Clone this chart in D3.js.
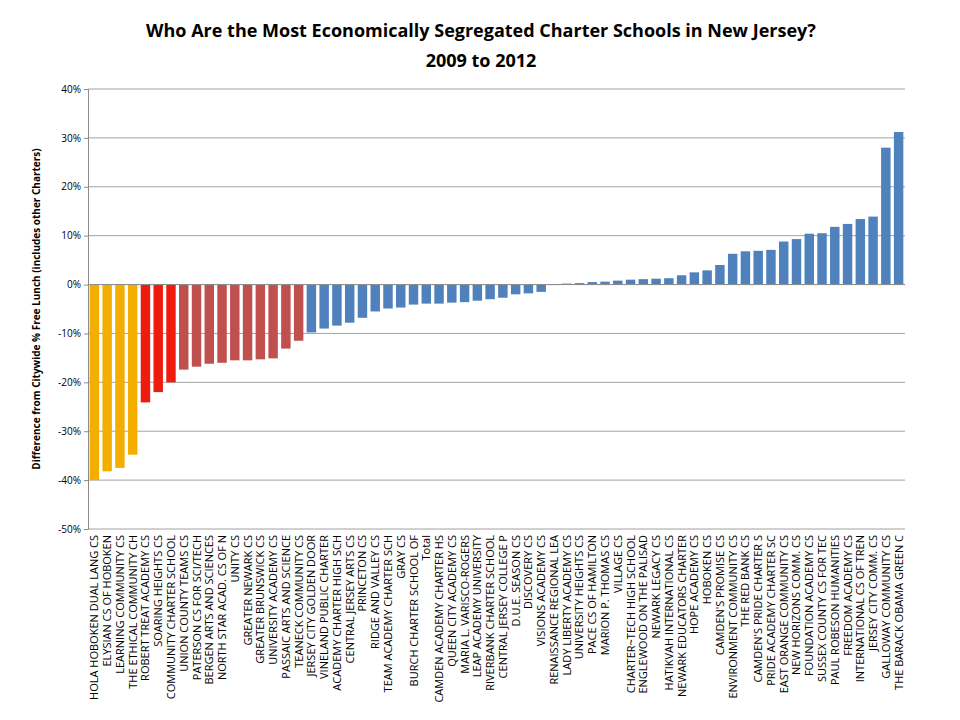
<html>
<head>
<meta charset="utf-8" />
<style>
  body { margin: 0; background: #fff; }
  svg text { font-family: "Open Sans", "DejaVu Sans", sans-serif; }
</style>
</head>
<body>
<div id="chart"></div>
<script src="https://cdnjs.cloudflare.com/ajax/libs/d3/7.8.5/d3.min.js"></script>
<script>
var schools = ["HOLA HOBOKEN DUAL LANG CS","ELYSIAN CS OF HOBOKEN","LEARNING COMMUNITY CS","THE ETHICAL COMMUNITY CH",
  "ROBERT TREAT ACADEMY CS","SOARING HEIGHTS CS","COMMUNITY CHARTER SCHOOL","UNION COUNTY TEAMS CS",
  "PATERSON CS FOR SCI/TECH","BERGEN ARTS AND SCIENCES","NORTH STAR ACAD. CS OF N","UNITY CS",
  "GREATER NEWARK CS","GREATER BRUNSWICK CS","UNIVERSITY ACADEMY CS","PASSAIC ARTS AND SCIENCE",
  "TEANECK COMMUNITY CS","JERSEY CITY GOLDEN DOOR","VINELAND PUBLIC CHARTER","ACADEMY CHARTER HIGH SCH",
  "CENTRAL JERSEY ARTS CS","PRINCETON CS","RIDGE AND VALLEY CS","TEAM ACADEMY CHARTER SCH",
  "GRAY CS","BURCH CHARTER SCHOOL OF","Total","CAMDEN ACADEMY CHARTER HS",
  "QUEEN CITY ACADEMY CS","MARIA L. VARISCO-ROGERS","LEAP ACADEMY UNIVERSITY","RIVERBANK CHARTER SCHOOL",
  "CENTRAL JERSEY COLLEGE P","D.U.E. SEASON CS","DISCOVERY CS","VISIONS ACADEMY CS",
  "RENAISSANCE REGIONAL LEA","LADY LIBERTY ACADEMY CS","UNIVERSITY HEIGHTS CS","PACE CS OF HAMILTON",
  "MARION P. THOMAS CS","VILLAGE CS","CHARTER~TECH HIGH SCHOOL","ENGLEWOOD ON THE PALISAD",
  "NEWARK LEGACY CS","HATIKVAH INTERNATIONAL CS","NEWARK EDUCATORS CHARTER","HOPE ACADEMY CS",
  "HOBOKEN CS","CAMDEN'S PROMISE CS","ENVIRONMENT COMMUNITY CS","THE RED BANK CS",
  "CAMDEN'S PRIDE CHARTER S","PRIDE ACADEMY CHARTER SC","EAST ORANGE COMMUNITY CS","NEW HORIZONS COMM. CS",
  "FOUNDATION ACADEMY CS","SUSSEX COUNTY CS FOR TEC","PAUL ROBESON HUMANITIES","FREEDOM ACADEMY CS",
  "INTERNATIONAL CS OF TREN","JERSEY CITY COMM. CS","GALLOWAY COMMUNITY CS","THE BARACK OBAMA GREEN C"];

// difference from citywide % free lunch
var diffs = [-40,-38.2,-37.5,-34.8,-24.1,-22,-20,-17.4,-16.8,-16.2,-16,-15.5,-15.5,-15.3,-15.1,-13.1,
  -11.5,-9.8,-9,-8.4,-7.8,-6.8,-5.5,-4.9,-4.7,-4.1,-3.9,-3.9,-3.7,-3.6,-3.3,-3,
  -2.7,-2,-1.8,-1.5,-0.1,0.2,0.3,0.5,0.6,0.8,1,1.1,1.2,1.3,1.9,2.5,
  2.9,4,6.3,6.8,6.9,7.1,8.8,9.3,10.4,10.5,11.8,12.4,13.4,13.9,28,31.2];

// colour group per bar: 0 orange, 1 red, 2 dark red, 3 blue
var groupCounts = [4, 3, 10, 47];
var groupColors = ["#F4AE00", "#EE1C0E", "#C0504D", "#4F81BD"];
var yTicks = [40,30,20,10,0,-10,-20,-30,-40,-50];

var groups = [];
groupCounts.forEach(function(n, g){ for (var i=0;i<n;i++) groups.push(g); });
var data = schools.map(function(s,i){ return {name:s, v:diffs[i], g:groups[i]}; });

var width = 960, height = 720;
var margin = {top:89, left:88, right:55, bottom:191};

var svg = d3.select("#chart").append("svg").attr("width", width).attr("height", height);

var x = d3.scaleBand().domain(schools).range([margin.left, width - margin.right]).paddingInner(0.26).paddingOuter(0.13);
var y = d3.scaleLinear().domain([-50, 40]).range([height - margin.bottom, margin.top]);

// gridlines
svg.append("g").selectAll("line").data(yTicks).enter().append("line")
  .attr("x1", margin.left).attr("x2", width - margin.right)
  .attr("y1", function(d){ return y(d); }).attr("y2", function(d){ return y(d); })
  .attr("stroke", "#8c8c8c").attr("stroke-width", 0.8);

// y axis
var yAxis = svg.append("g").attr("transform", "translate(" + margin.left + ",0)")
  .call(d3.axisLeft(y).tickValues(yTicks).tickSize(4).tickFormat(function(d){ return d + "%"; }));
yAxis.select(".domain").attr("stroke", "#8c8c8c");
yAxis.selectAll(".tick line").attr("stroke", "#8c8c8c");
yAxis.selectAll("text").attr("font-size", 10).attr("fill", "#000");

// bars
svg.append("g").selectAll("rect").data(data).enter().append("rect")
  .attr("x", function(d){ return x(d.name); })
  .attr("width", x.bandwidth())
  .attr("y", function(d){ return y(Math.max(0, d.v)); })
  .attr("height", function(d){ return Math.abs(y(d.v) - y(0)); })
  .attr("fill", function(d){ return groupColors[d.g]; });

// category axis line at zero
svg.append("line").attr("x1", margin.left).attr("x2", width - margin.right)
  .attr("y1", y(0)).attr("y2", y(0)).attr("stroke", "#8c8c8c");

// category labels at bottom
svg.append("g").selectAll("text").data(schools).enter().append("text")
  .attr("transform", function(d){ return "translate(" + (x(d) + x.bandwidth()/2 + 4) + "," + (y(-50) + 6) + ") rotate(-90)"; })
  .attr("text-anchor", "end")
  .attr("font-size", 11)
  .attr("fill", "#000")
  .text(function(d){ return d; });

// y title
svg.append("text")
  .attr("transform", "translate(40," + y(-5) + ") rotate(-90)")
  .attr("text-anchor", "middle").attr("font-size", 10).attr("font-weight", "bold")
  .text("Difference from Citywide % Free Lunch (includes other Charters)");

// title
svg.append("text").attr("x", 481).attr("y", 37).attr("text-anchor", "middle")
  .attr("font-size", 18).attr("font-weight", "bold")
  .text("Who Are the Most Economically Segregated Charter Schools in New Jersey?");
svg.append("text").attr("x", 481).attr("y", 67).attr("text-anchor", "middle")
  .attr("font-size", 18).attr("font-weight", "bold")
  .text("2009 to 2012");
</script>
</body>
</html>
